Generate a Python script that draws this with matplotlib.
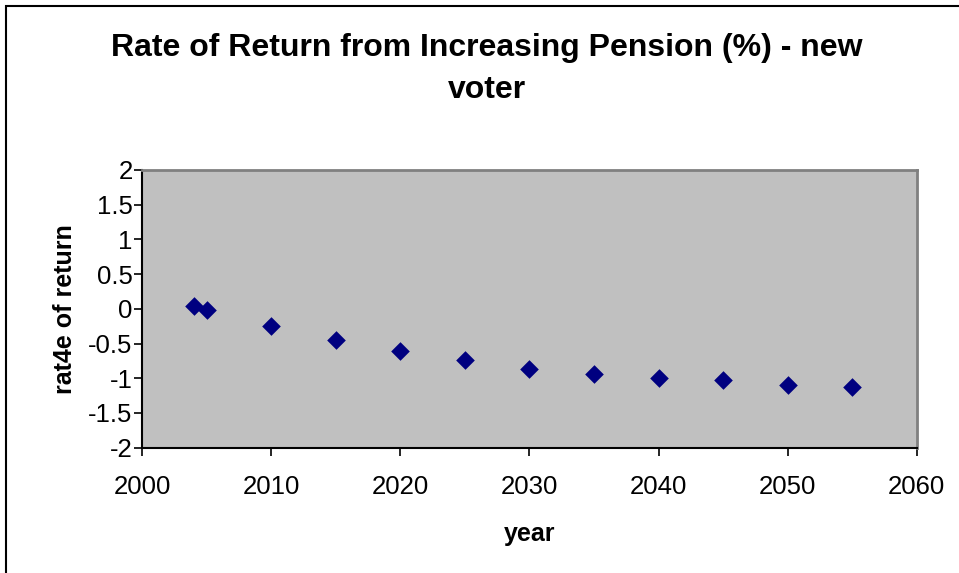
import matplotlib
matplotlib.use("Agg")
import matplotlib.pyplot as plt
from matplotlib.patches import Rectangle

years = [2004, 2005, 2010, 2015, 2020, 2025, 2030, 2035, 2040, 2045, 2050, 2055]
rate = [0.04, -0.02, -0.25, -0.45, -0.60, -0.74, -0.86, -0.94, -1.00, -1.03, -1.09, -1.12]
xticks = [2000, 2010, 2020, 2030, 2040, 2050, 2060]
yticks = [2, 1.5, 1, 0.5, 0, -0.5, -1, -1.5, -2]
ytick_labels = ["2", "1.5", "1", "0.5", "0", "-0.5", "-1", "-1.5", "-2"]

W, H = 959, 573
fig = plt.figure(figsize=(W / 100, H / 100), dpi=100)
plt.rcParams['font.family'] = ['Liberation Sans', 'DejaVu Sans']

# outer chart border
fig.patches.append(Rectangle((6 / W, -0.1), 2, 1 - 6 / H + 0.1, transform=fig.transFigure,
                             fill=False, edgecolor='black', linewidth=1.5))

left, right, top, bottom = 142.3, 916.7, 170, 447.7
ax = fig.add_axes([left / W, 1 - bottom / H, (right - left) / W, (bottom - top) / H])
ax.set_facecolor('#C0C0C0')
ax.scatter(years, rate, marker='D', s=90, color='#000080', zorder=3, linewidths=0)

ax.set_xlim(2000, 2060)
ax.set_ylim(-2, 2)
ax.set_xticks(xticks)
ax.set_xticklabels([str(t) for t in xticks])
ax.set_yticks(yticks)
ax.set_yticklabels(ytick_labels)

for s in ['top', 'right']:
    ax.spines[s].set_color('#808080')
    ax.spines[s].set_linewidth(2)
for s in ['left', 'bottom']:
    ax.spines[s].set_color('black')
    ax.spines[s].set_linewidth(1.5)

ax.tick_params(axis='both', direction='out', length=6, width=1.2, color='black',
               labelsize=18.5, pad=1)
ax.tick_params(axis='x', pad=14)

ax.set_xlabel('year', fontsize=18, fontweight='bold', labelpad=16)
ax.set_ylabel('rat4e of return', fontsize=18, fontweight='bold', labelpad=8)

fig.text(0.5 * (113 + 860) / W, 1 - 48 / H, 'Rate of Return from Increasing Pension (%) - new',
         ha='center', va='center', fontsize=23, fontweight='bold')
fig.text(0.5 * (113 + 860) / W, 1 - 90 / H, 'voter',
         ha='center', va='center', fontsize=23, fontweight='bold')

fig.savefig('out.png', dpi=100, facecolor='white')
